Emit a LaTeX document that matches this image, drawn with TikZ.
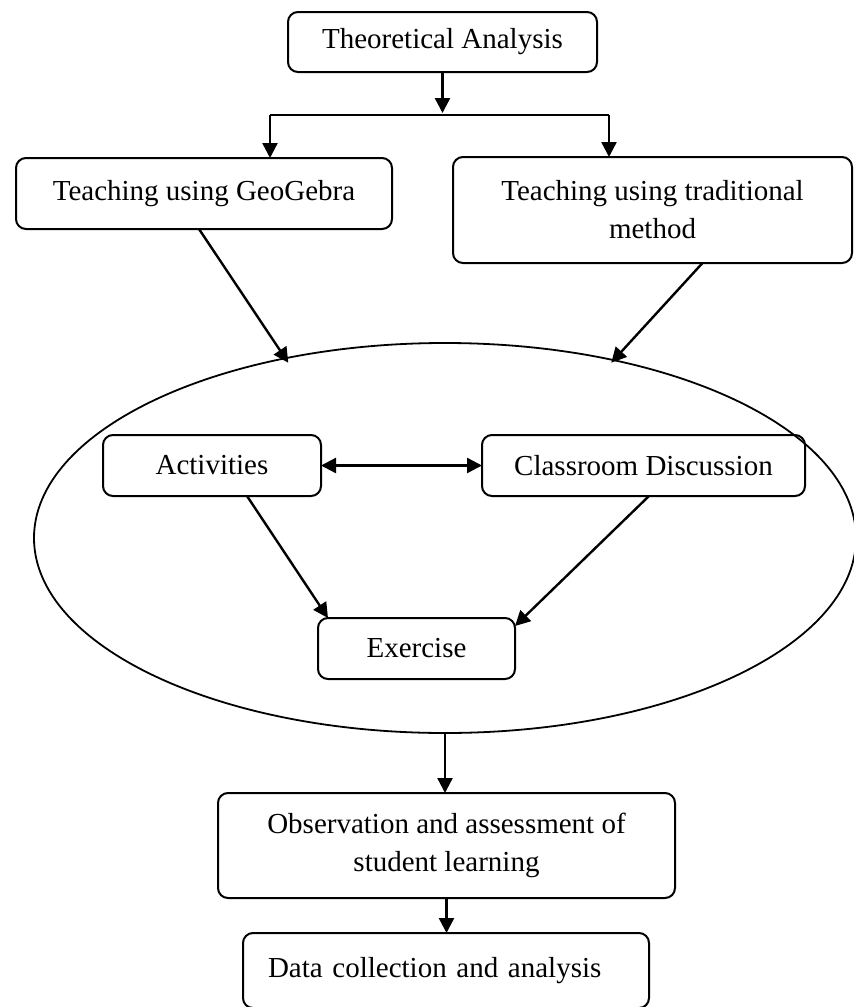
\documentclass[tikz,border=0pt]{standalone}
\usepackage{fontspec}
\setmainfont{Liberation Serif}
\usetikzlibrary{arrows.meta,shapes.geometric}
\begin{document}
\begin{tikzpicture}[x=1pt,y=-1pt,
  box/.style={draw,line width=2pt,rounded corners=10pt,inner sep=0pt,outer sep=0pt,
    font=\fontsize{29}{38}\selectfont,align=center},
  arr/.style={line width=2.4pt,-{Triangle[length=15pt,width=15pt]}},
  darr/.style={line width=2.4pt,{Triangle[length=15pt,width=15pt]}-{Triangle[length=15pt,width=15pt]}},
  ln/.style={line width=2.4pt}]
\useasboundingbox (0,0) rectangle (854,1007);
\node[draw,ellipse,line width=1.8pt,minimum width=822pt,minimum height=390pt,inner sep=0pt,outer sep=0pt] (ell) at (445,538) {};
\node[box,minimum width=309pt,minimum height=60pt] (theo) at (442.5,42) {Theoretical Analysis};
\node[box,minimum width=376pt,minimum height=71pt] (geo) at (204,193.5) {Teaching using GeoGebra};
\node[box,minimum width=399pt,minimum height=106pt] (trad) at (652.5,210) {Teaching using traditional\\method};
\node[box,minimum width=218pt,minimum height=61pt] (act) at (212,465.5) {Activities};
\node[box,minimum width=323pt,minimum height=61pt] (cls) at (643.5,465.5) {Classroom Discussion};
\node[box,minimum width=197pt,minimum height=61pt] (ex) at (416.5,648.5) {Exercise};
\node[box,minimum width=457pt,minimum height=105pt] (obs) at (446.5,845.5) {Observation and assessment of\\student learning};
\node[box,minimum height=75pt,text width=356pt,inner xsep=25pt,align=left] (data) at (446,970.5) {Data collection and analysis};
\coordinate (split) at (442.5,115);
\coordinate (jl) at (270,115);
\coordinate (jr) at (609,115);
\draw[arr] (theo.south) -- ([yshift=2pt]split);
\draw[ln] (jl) -- (jr);
\draw[arr] (jl) -- (jl |- geo.north);
\draw[arr] (jr) -- (jr |- trad.north);
\draw[arr] ([xshift=-5pt]geo.south) -- ([yshift=-5pt]ell.131);
\draw[arr] ([xshift=50pt]trad.south) -- ([yshift=-3pt]ell.47);
\draw[darr] (act.east) -- (cls.west);
\draw[arr] ([xshift=35pt]act.south) -- ([xshift=10pt]ex.north west);
\draw[arr] ([xshift=5.5pt]cls.south) -- ([yshift=-8pt]ex.north east);
\draw[arr] (ell.south) -- (ell.south |- obs.north);
\draw[arr] (obs.south) -- (obs.south |- data.north);
\end{tikzpicture}
\end{document}
